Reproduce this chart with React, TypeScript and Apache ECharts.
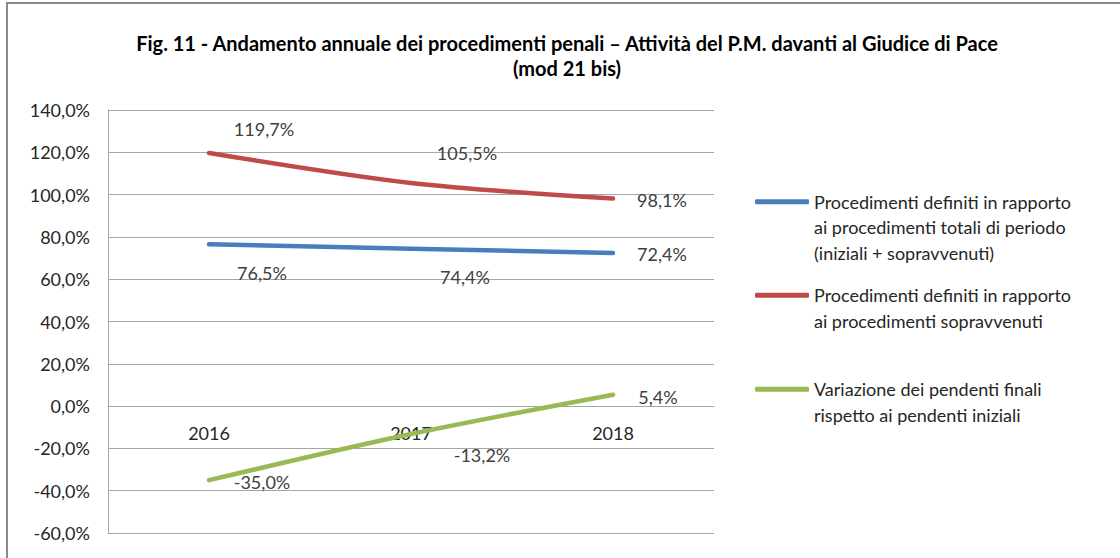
import React, { useEffect, useRef } from "react";
import * as echarts from "echarts";

const categories = ["2016", "2017", "2018"];
const seriesNames = [
  "Procedimenti definiti in rapporto\nai procedimenti totali di periodo\n(iniziali + sopravvenuti)",
  "Procedimenti definiti in rapporto\nai procedimenti sopravvenuti",
  "Variazione dei pendenti finali\nrispetto ai pendenti iniziali",
];
const totaliValues = [76.5, 74.4, 72.4];
const sopravvenutiValues = [119.7, 105.5, 98.1];
const pendentiValues = [-35.0, -13.2, 5.4];
const yTicks = { min: -60, max: 140, interval: 20 };

const colors = ["#4A7EBB", "#BE4B48", "#98B954"];
const labelOffsets = [
  [[53, 29], [54, 28], [49, 1]],
  [[55, -24], [56, -30], [49, 1]],
  [[53, 2], [71, 21], [45, 2]],
];
const legendTops = [138, 257, 351];

const FONT = "Lato";
const fmt = (v: number) => v.toFixed(1).replace(".", ",") + "%";

export default function App() {
  const ref = useRef<HTMLDivElement>(null);
  useEffect(() => {
    if (!ref.current) return;
    const chart = echarts.init(ref.current, undefined, { renderer: "svg" });
    const values = [totaliValues, sopravvenutiValues, pendentiValues];
    const lh = 25.5;
    const gridTop = 110;
    const gridBottom = 25;
    const plotH = 558 - gridTop - gridBottom;
    const zeroFromBottom = ((0 - yTicks.min) / (yTicks.max - yTicks.min)) * plotH;
    const series = values.map((vals, si) => ({
      type: "line",
      name: seriesNames[si],
      data: vals.map((v, i) => ({
        value: v,
        label: { offset: labelOffsets[si][i] },
      })),
      smooth: 0.3,
      symbol: "circle",
      symbolSize: 2,
      showSymbol: true,
      lineStyle: { color: colors[si], width: 4.5, cap: "round" },
      itemStyle: { color: colors[si] },
      label: {
        show: true,
        position: "inside",
        formatter: (p: any) => fmt(p.value),
        fontFamily: FONT,
        fontSize: 18,
        color: "#404040",
      },
      emphasis: { disabled: true },
    }));
    const legends = seriesNames.map((name, i) => {
      const n = name.split("\n").length;
      return {
        show: true,
        left: 755,
        top: legendTops[i],
        orient: "vertical",
        padding: 0,
        data: [name],
        icon: "roundRect",
        itemWidth: 54,
        itemHeight: 5,
        selectedMode: false,
        formatter: (nm: string) => "\n".repeat(n - 1) + nm,
        textStyle: {
          fontFamily: FONT,
          fontSize: 18,
          color: "#262626",
          lineHeight: lh,
        },
      };
    });
    chart.setOption({
      animation: false,
      color: colors,
      title: {
        text: "Fig. 11 - Andamento annuale dei procedimenti penali – Attività del P.M. davanti al Giudice di Pace\n(mod 21 bis)",
        left: 567,
        textAlign: "center",
        top: 30,
        padding: 0,
        textStyle: {
          fontFamily: FONT,
          fontSize: 20,
          fontWeight: "bold",
          color: "#000",
          lineHeight: 25,
        },
      },
      legend: legends,
      grid: { left: 108, right: 406, top: gridTop, bottom: gridBottom, containLabel: false, outerBoundsMode: "none" },
      xAxis: {
        type: "category",
        data: categories,
        boundaryGap: true,
        position: "bottom",
        offset: -zeroFromBottom,
        axisLine: { show: true, onZero: false, lineStyle: { color: "#a6a6a6", width: 1 } },
        axisTick: { show: false },
        axisLabel: { margin: 18, fontFamily: FONT, fontSize: 18, color: "#262626" },
        splitLine: { show: false },
      },
      yAxis: {
        type: "value",
        min: yTicks.min,
        max: yTicks.max,
        interval: yTicks.interval,
        axisLine: { show: true, lineStyle: { color: "#a6a6a6", width: 1 } },
        axisTick: { show: false },
        axisLabel: {
          margin: 18,
          fontFamily: FONT,
          fontSize: 18,
          color: "#262626",
          formatter: (v: number) => fmt(v),
        },
        splitLine: { show: true, lineStyle: { color: "#a6a6a6", width: 1 } },
      },
      graphic: [
        {
          type: "rect",
          shape: { x: 7, y: 3, width: 1300, height: 800 },
          style: { fill: "none", stroke: "#8a8a8a", lineWidth: 2 },
          silent: true,
        },
      ],
      series,
    });
    return () => chart.dispose();
  }, []);
  return (
    <div
      ref={ref}
      style={{ position: "absolute", left: 0, top: 0, width: 1120, height: 558, background: "#fff" }}
    />
  );
}
